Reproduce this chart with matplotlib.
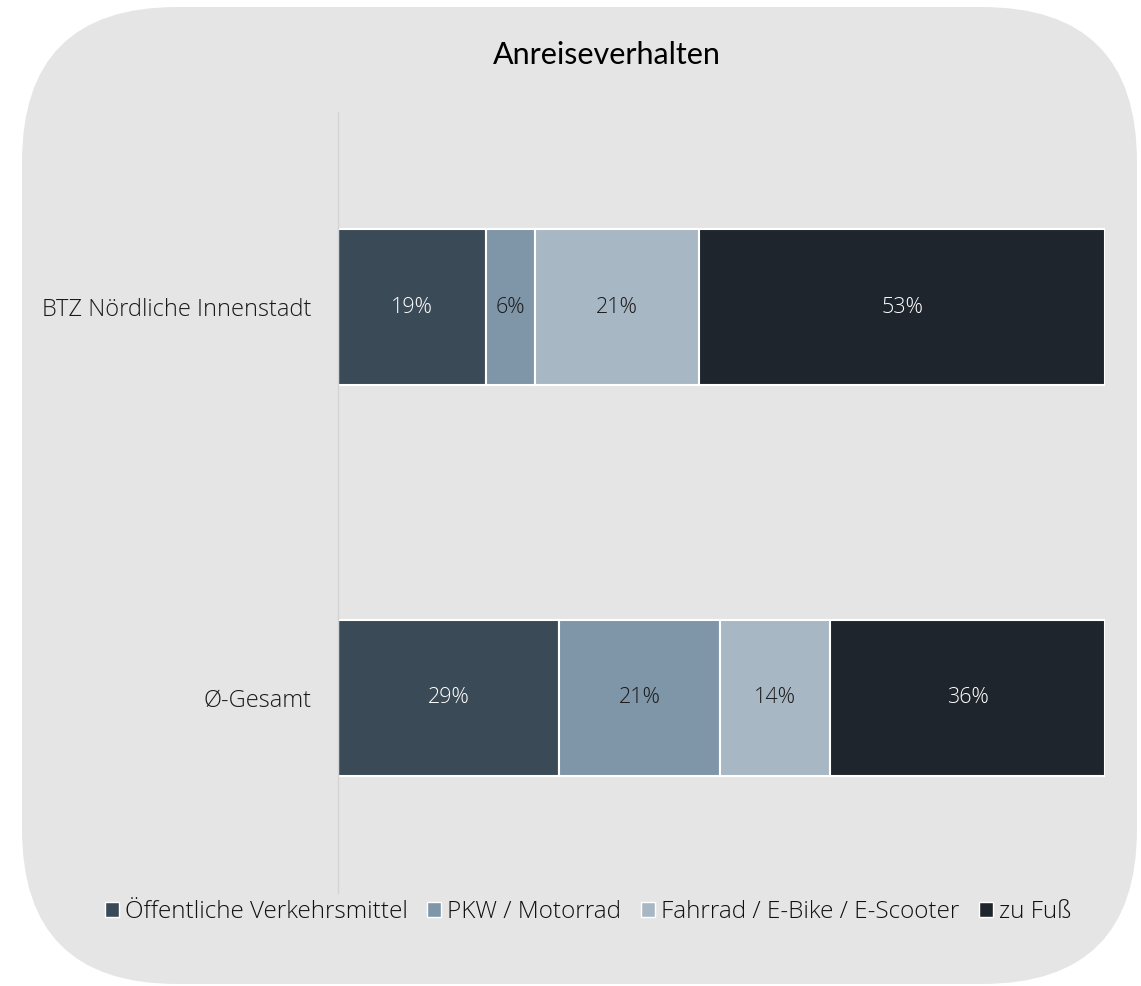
import matplotlib
matplotlib.use("Agg")
import matplotlib.pyplot as plt
from matplotlib.patches import FancyBboxPatch, Patch

categories = ["BTZ Nördliche Innenstadt", "Ø-Gesamt"]
series = ["Öffentliche Verkehrsmittel", "PKW / Motorrad", "Fahrrad / E-Bike / E-Scooter", "zu Fuß"]
values = {
    "Öffentliche Verkehrsmittel": [19.3, 28.8],
    "PKW / Motorrad": [6.4, 21.0],
    "Fahrrad / E-Bike / E-Scooter": [21.4, 14.4],
    "zu Fuß": [52.9, 35.8],
}
colors = ["#3b4a57", "#7f95a8", "#a8b7c4", "#1f252d"]
label_colors = ["white", "#1a1a1a", "#1a1a1a", "white"]
title = "Anreiseverhalten"

FONT = ["Open Sans", "DejaVu Sans"]
plt.rcParams["font.family"] = FONT

W, H = 1141, 986
fig = plt.figure(figsize=(W / 100, H / 100), dpi=100)
fig.patch.set_facecolor("white")

bg = fig.add_axes([0, 0, 1, 1])
bg.set_xlim(0, W)
bg.set_ylim(H, 0)
bg.axis("off")
r = 155
bg.add_patch(FancyBboxPatch((22 + r, 7 + r), 1137 - 22 - 2 * r, 984 - 7 - 2 * r,
                            boxstyle=f"round,pad={r}", facecolor="#e5e5e5",
                            edgecolor="none"))
bg.text(607, 55, title, ha="center", va="center", fontsize=22, color="black",
        family=["Lato", "DejaVu Sans"])

ax = fig.add_axes([338 / W, 1 - 893 / H, (1105 - 338) / W, (893 - 112) / H])
ax.set_facecolor("none")
ypos = list(range(len(categories)))
left = [0.0] * len(categories)
for s, c, tc in zip(series, colors, label_colors):
    vals = values[s]
    bars = ax.barh(ypos, vals, left=left, height=0.4, color=c,
                   edgecolor="white", linewidth=1.5, label=s)
    for b, v, l in zip(bars, vals, left):
        ax.text(l + v / 2, b.get_y() + b.get_height() / 2, f"{v:.0f}%",
                ha="center", va="center", color=tc, fontsize=15.5,
                fontweight="light")
    left = [a + b for a, b in zip(left, vals)]

ax.set_xlim(0, 100)
ax.set_ylim(1.5, -0.5)
ax.set_yticks(ypos)
ax.set_yticklabels(categories, fontsize=17, color="#1a1a1a", fontweight="light")
ax.tick_params(axis="y", length=0, pad=19)
ax.set_xticks([])
for sp in ["top", "right", "bottom"]:
    ax.spines[sp].set_visible(False)
ax.spines["left"].set_color("#d4d4d4")
ax.spines["left"].set_linewidth(1)

handles = [Patch(facecolor=c, edgecolor="white", linewidth=1) for c in colors]
leg = fig.legend(handles, series, loc="center", bbox_to_anchor=(588 / W, 1 - 912 / H),
                 ncol=4, frameon=False, handlelength=0.58, handleheight=0.58,
                 handletextpad=0.25, columnspacing=0.8,
                 prop={"size": 17.5, "weight": "light"})
for t in leg.get_texts():
    t.set_color("#111111")

fig.savefig("out.png", dpi=100, facecolor="white")
